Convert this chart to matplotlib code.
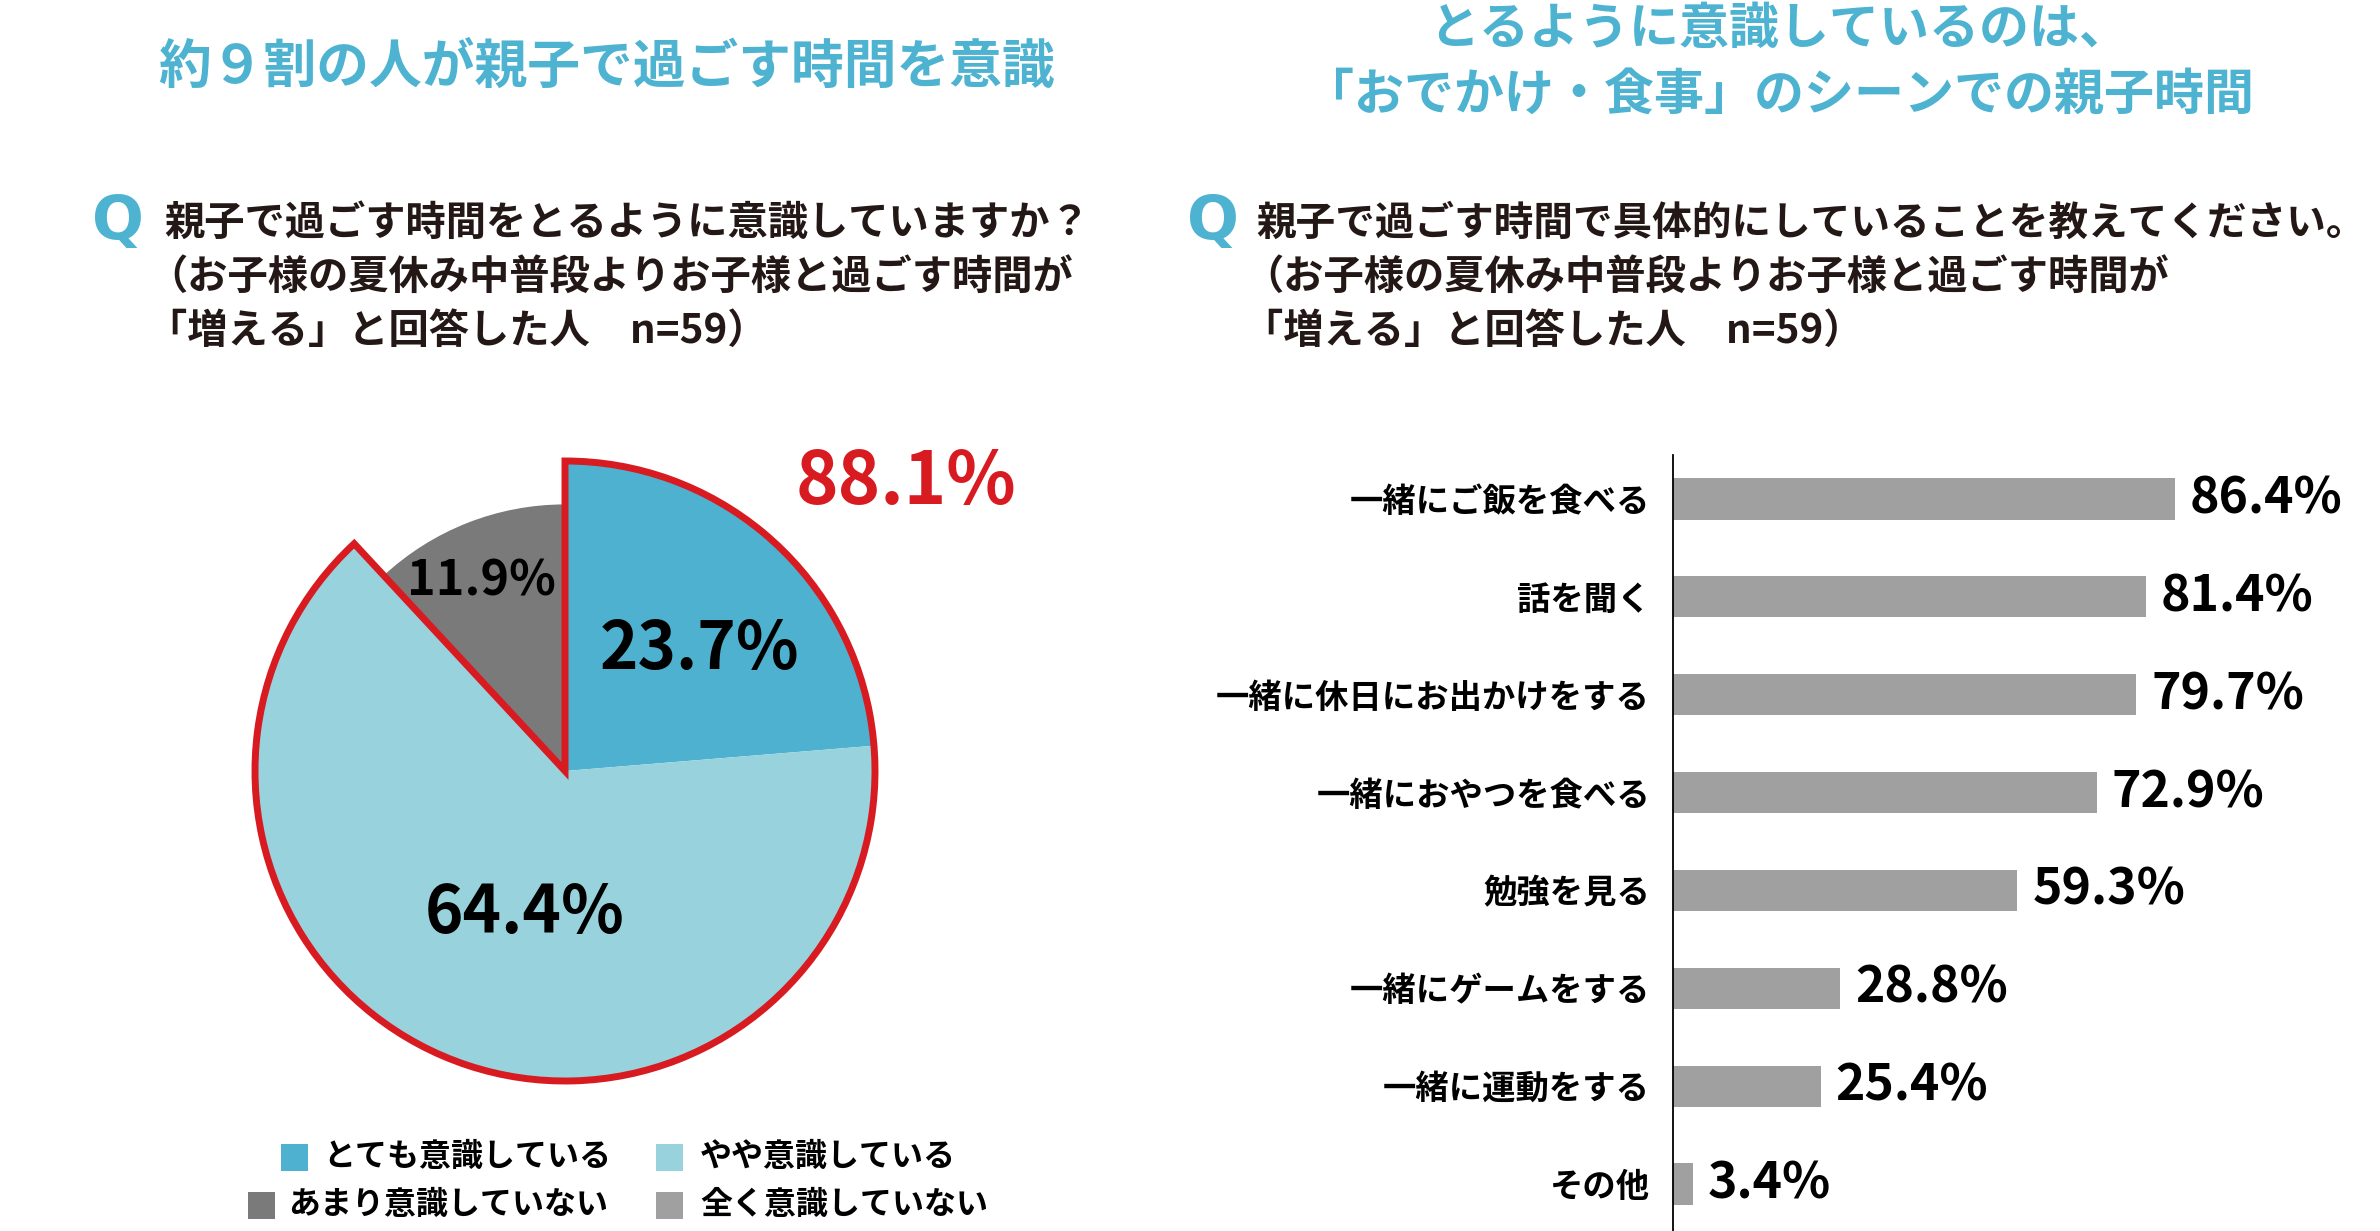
import matplotlib
matplotlib.use("Agg")
import matplotlib.pyplot as plt
from matplotlib.patches import Wedge, Rectangle

plt.rcParams['font.family'] = ['Noto Sans CJK JP', 'DejaVu Sans']
plt.rcParams['font.weight'] = 'bold'

W, H = 2380, 1231

# 円グラフのデータ
pie_labels = ['とても意識している', 'やや意識している', 'あまり意識していない', '全く意識していない']
pie_values = [23.7, 64.4, 11.9, 0.0]
pie_colors = ['#4db1cf', '#98d3dd', '#7a7a7a', '#a0a0a0']
aware_total = 88.1

# 棒グラフのデータ
bar_labels = ['一緒にご飯を食べる', '話を聞く', '一緒に休日にお出かけをする', '一緒におやつを食べる',
              '勉強を見る', '一緒にゲームをする', '一緒に運動をする', 'その他']
bar_values = [86.4, 81.4, 79.7, 72.9, 59.3, 28.8, 25.4, 3.4]

title_left = '約９割の人が親子で過ごす時間を意識'
title_right = ['とるように意識しているのは、', '「おでかけ・食事」のシーンでの親子時間']
q_left = ['親子で過ごす時間をとるように意識していますか？',
          '（お子様の夏休み中普段よりお子様と過ごす時間が',
          '「増える」と回答した人\u3000n=59）']
q_right = ['親子で過ごす時間で具体的にしていることを教えてください。',
           '（お子様の夏休み中普段よりお子様と過ごす時間が',
           '「増える」と回答した人\u3000n=59）']

blue = '#4db3d1'
red = '#d81b20'


def fx(x):
    return x / W


def fy(y):
    return 1 - y / H


fig = plt.figure(figsize=(W / 100, H / 100), dpi=100)

# タイトル
fig.text(fx(607), fy(67), title_left, color=blue, fontsize=38, ha='center', va='center')
fig.text(fx(1779), fy(29), title_right[0], color=blue, fontsize=36, ha='center', va='center')
fig.text(fx(1779), fy(95), title_right[1], color=blue, fontsize=36, ha='center', va='center')

# 設問
fig.text(fx(118), fy(222), 'Q', color=blue, fontsize=44, ha='center', va='center', family='DejaVu Sans')
fig.text(fx(1213), fy(222), 'Q', color=blue, fontsize=44, ha='center', va='center', family='DejaVu Sans')
for i, line in enumerate(q_left):
    x0 = 164 if i == 0 else 147  # 全角カッコの余白分だけ左へ
    fig.text(fx(x0), fy(223 + i * 54), line, fontsize=29, ha='left', va='center', color='#231815')
for i, line in enumerate(q_right):
    x0 = 1256 if i == 0 else 1243
    fs = 28.5 if i == 0 else 29
    fig.text(fx(x0), fy(223 + i * 54), line, fontsize=fs, ha='left', va='center', color='#231815')

# 円グラフ
R = 310
cx, cy = 565, 771
side = 720
ax = fig.add_axes([fx(cx - side / 2), fy(cy + side / 2), side / W, side / H])
wedges, _ = ax.pie(pie_values[:3], colors=pie_colors[:3], startangle=90, counterclock=False,
                   radius=1, wedgeprops=dict(linewidth=0))
wedges[2].set_radius(0.86)
ax.add_patch(Wedge((0, 0), 1, 90 - aware_total * 3.6, 90, fill=False, edgecolor=red,
                   linewidth=5, joinstyle='miter'))
lim = side / 2 / R
ax.set_xlim(-lim, lim)
ax.set_ylim(-lim, lim)
ax.set_aspect('equal')
ax.axis('off')

fig.text(fx(906), fy(483), f'{aware_total}%', color=red, fontsize=52, ha='center', va='center')
fig.text(fx(700), fy(650), f'{pie_values[0]}%', fontsize=47, ha='center', va='center')
fig.text(fx(525), fy(914), f'{pie_values[1]}%', fontsize=47, ha='center', va='center')
fig.text(fx(481), fy(581), f'{pie_values[2]}%', fontsize=35, ha='center', va='center')

# 凡例
legend_pos = [(294, 1157, 323), (669, 1157, 700), (261, 1205, 288), (669, 1205, 700)]
sq = 27
for (sx, sy, tx), lab, col in zip(legend_pos, pie_labels, pie_colors):
    fig.patches.append(Rectangle((fx(sx - sq / 2), fy(sy + sq / 2)), sq / W, sq / H,
                                 transform=fig.transFigure, facecolor=col, edgecolor='none'))
    fig.text(fx(tx), fy(sy), lab, fontsize=23, ha='left', va='center')

# 棒グラフ
ax2 = fig.add_axes([fx(1673), 0, fx(2380) - fx(1673), fy(455)])
ypos = list(range(len(bar_values)))
ax2.barh(ypos, bar_values, height=0.42, color='#a0a0a0')
ax2.set_ylim(len(bar_values) - 1 + 0.48, -0.45)
ax2.set_xlim(0, 121.7)
for s in ['top', 'right', 'bottom']:
    ax2.spines[s].set_visible(False)
ax2.spines['left'].set_linewidth(1.3)
ax2.spines['left'].set_color('black')
ax2.set_xticks([])
ax2.set_yticks(ypos)
ax2.set_yticklabels(bar_labels, fontsize=24)
ax2.tick_params(axis='y', length=0, pad=16.5)
for i, v in enumerate(bar_values):
    ax2.text(v + 2.6, i, f'{v}%', va='center', ha='left', fontsize=36)

fig.savefig('out.png', dpi=100)
